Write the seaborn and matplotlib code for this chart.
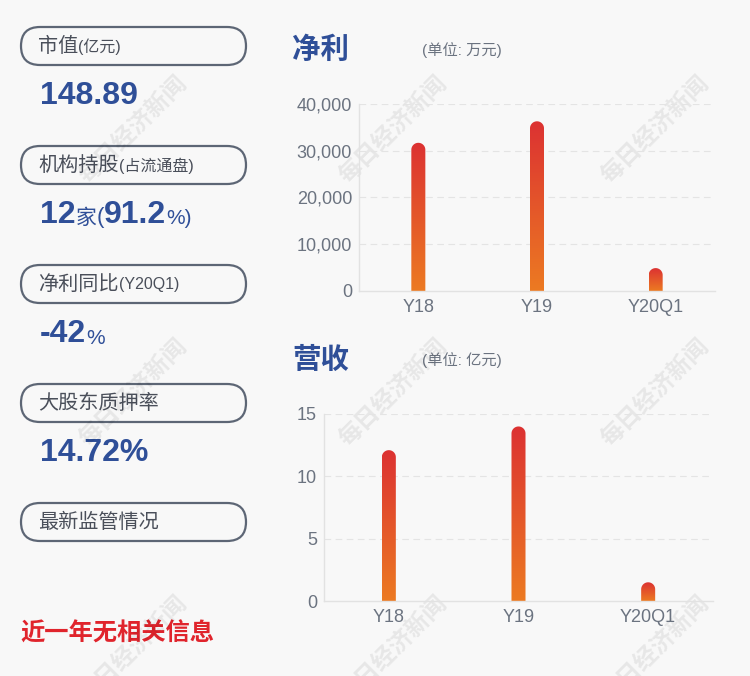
import numpy as np
import pandas as pd
import matplotlib
matplotlib.use('Agg')
import matplotlib.pyplot as plt
import seaborn as sns
from matplotlib.path import Path
from matplotlib.patches import PathPatch, FancyBboxPatch
from matplotlib.colors import LinearSegmentedColormap

# data
periods = ['Y18', 'Y19', 'Y20Q1']
profit = [31700, 36300, 4900]        # 净利, 万元
revenue = [12.1, 14.0, 1.5]          # 营收, 亿元
profit_ticks = [0, 10000, 20000, 30000, 40000]
revenue_ticks = [0, 5, 10, 15]

labels = ['市值', '机构持股', '净利同比', '大股东质押率', '最新监管情况']
label_notes = ['(亿元)', '(占流通盘)', '(Y20Q1)', '', '']

sns.set_theme(style='white')
plt.rcParams['font.family'] = ['Liberation Sans', 'Noto Sans CJK SC', 'DejaVu Sans']

BG = '#f8f8f8'
BLUE = '#2f4f98'
GRAY = '#6b7380'
grad = LinearSegmentedColormap.from_list('bar', ['#ec7a22', '#dc3232'])

W, H = 750, 676
fig = plt.figure(figsize=(W / 100, H / 100), dpi=100)
fig.patch.set_facecolor(BG)

# background canvas in pixel coords for the left panel and watermarks
bg = fig.add_axes([0, 0, 1, 1])
bg.set_xlim(0, W)
bg.set_ylim(H, 0)
bg.axis('off')
renderer = fig.canvas.get_renderer()


def fx(px):
    return px / W


def fy(py):
    return 1 - py / H


def run_text(x, y, pieces):
    # pieces: (text, size, bold, dy) drawn one after another
    for s, size, bold, dy in pieces:
        t = bg.text(x, y + dy, s, fontsize=size, color=BLUE, va='center',
                    fontweight='bold' if bold else 'normal')
        x += t.get_window_extent(renderer).width


def rounded_bars(ax, bars, r_px=7):
    # swap every seaborn bar for a gradient bar with a round top
    fig.canvas.draw()
    inv = ax.transData.inverted()
    p0 = inv.transform((0, 0))
    p1 = inv.transform((0, r_px))
    ry = abs(p1[1] - p0[1])
    for b in bars:
        x0 = b.get_x()
        w = b.get_width()
        h = b.get_height()
        b.set_visible(False)
        rx = w / 2
        top = max(h - ry, 0)
        th = np.linspace(np.pi, 0, 30)
        verts = [(x0, 0), (x0, top)]
        verts += [(x0 + rx + rx * np.cos(t), top + ry * np.sin(t)) for t in th]
        verts += [(x0 + w, 0), (x0, 0)]
        codes = [Path.MOVETO] + [Path.LINETO] * (len(verts) - 2) + [Path.CLOSEPOLY]
        clip = PathPatch(Path(verts, codes), transform=ax.transData, facecolor='none', edgecolor='none')
        ax.add_patch(clip)
        g = np.linspace(0, 1, 100).reshape(-1, 1)
        im = ax.imshow(g, cmap=grad, origin='lower', aspect='auto',
                       extent=[x0, x0 + w, 0, h], zorder=3)
        im.set_clip_path(clip)


def bar_chart(rect, values, ticks, ylim, bar_w, fmt):
    ax = fig.add_axes(rect)
    ax.set_facecolor('none')
    df = pd.DataFrame({'period': periods, 'value': values})
    sns.barplot(data=df, x='period', y='value', ax=ax, width=bar_w, color='#e05030')
    ax.set_ylim(*ylim)
    ax.set_yticks(ticks)
    ax.set_yticklabels([fmt(t) for t in ticks])
    ax.set_xlabel('')
    ax.set_ylabel('')
    for t in ticks[1:]:
        ax.axhline(t, color='#e4e4e4', lw=0.8, ls=(0, (6, 4)), zorder=0)
    for s in ['top', 'right']:
        ax.spines[s].set_visible(False)
    for s in ['left', 'bottom']:
        ax.spines[s].set_color('#e2e2e2')
        ax.spines[s].set_linewidth(1)
    ax.spines['bottom'].set_zorder(4)
    ax.tick_params(axis='both', length=0, labelsize=13, colors=GRAY)
    ax.tick_params(axis='y', pad=5)
    ax.tick_params(axis='x', pad=6)
    ax.set_xlim(-0.5, 2.5)
    ax.set_ylim(*ylim)
    rounded_bars(ax, ax.patches)
    ax.set_xlim(-0.5, 2.5)
    ax.set_ylim(*ylim)
    return ax


ax1 = bar_chart([fx(359), fy(291), fx(715) - fx(359), fy(104) - fy(291)],
                profit, profit_ticks, (0, 40000), 0.118, lambda v: f'{v:,}')
ax2 = bar_chart([fx(324), fy(601), fx(713) - fx(324), fy(414) - fy(601)],
                revenue, revenue_ticks, (0, 15), 0.108, lambda v: f'{v}')

# chart titles
bg.text(292, 50, '净利', fontsize=20.5, fontweight='bold', color=BLUE, va='center')
bg.text(422, 50, '(单位: 万元)', fontsize=11, color=GRAY, va='center')
bg.text(292, 360, '营收', fontsize=20.5, fontweight='bold', color=BLUE, va='center')
bg.text(422, 360, '(单位: 亿元)', fontsize=11, color=GRAY, va='center')

# left panel pills
pill_tops = [27, 146, 265, 384, 503]
for top, lab, note in zip(pill_tops, labels, label_notes):
    box = FancyBboxPatch((21, top), 225, 38, boxstyle='round,pad=0,rounding_size=19',
                         facecolor='none', edgecolor='#5d6675', lw=1.6)
    bg.add_patch(box)
    t = bg.text(38, top + 19, lab, fontsize=14.5, color='#4a4f5a', va='center')
    if note:
        nx = 38 + t.get_window_extent(renderer).width
        bg.text(nx, top + 20, note, fontsize=11.5, color='#4a4f5a', va='center')

# left panel values
run_text(40, 96, [('148.89', 23, True, 0)])
run_text(40, 215, [('12', 23, True, 0), ('家', 15, False, 3), ('(', 16, False, 2),
                   ('91.2', 23, True, 0), ('%)', 15, False, 3)])
run_text(40, 334, [('-42', 23, True, 0), ('%', 15, False, 4)])
run_text(40, 453, [('14.72%', 23, True, 0)])
bg.text(20, 634, '近一年无相关信息', fontsize=17.5, fontweight='bold', color='#e0242c', va='center')

# watermarks
for cx in [133, 393, 655]:
    for cy in [130, 393, 650]:
        bg.text(cx, cy, '每日经济新闻', fontsize=17, fontweight='bold', color='#000000',
                alpha=0.07, rotation=45, ha='center', va='center', rotation_mode='anchor')

fig.savefig('out.png', dpi=100, facecolor=BG)
